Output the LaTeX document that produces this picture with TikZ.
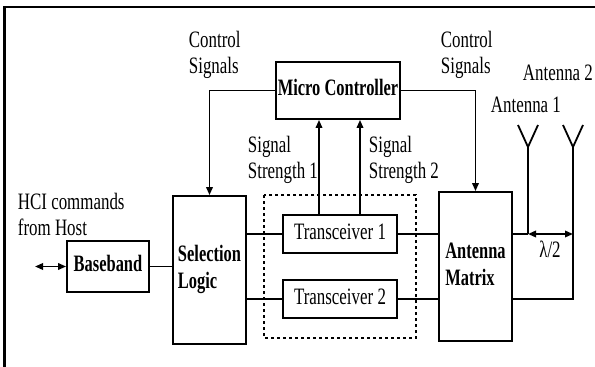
\documentclass[tikz,border=0pt]{standalone}
\usepackage{fontspec}
\setmainfont{Liberation Serif}
\usetikzlibrary{arrows.meta}
\newcommand\nrw[1]{\scalebox{0.72}[1]{\fontsize{23.5}{26}\selectfont\begin{tabular}{@{}l@{}}#1\end{tabular}}}
\newcommand\nrwb[1]{\scalebox{0.7}[1]{\fontsize{23.5}{27}\selectfont\bfseries\begin{tabular}{@{}l@{}}#1\end{tabular}}}
\begin{document}
\begin{tikzpicture}[x=1pt,y=-1pt,line width=1.8pt,
  box/.style={draw,line width=1.8pt,inner sep=0pt},
  lab/.style={inner sep=0pt},
  tip/.style={-{Triangle[length=8pt,width=6.5pt]}},
  dtip/.style={{Triangle[length=8pt,width=6.5pt]}-{Triangle[length=8pt,width=6.5pt]}}]
\useasboundingbox (0,0) rectangle (595,367);
% frame (cropped)
\draw[line width=2.8pt] (4.5,367) -- (4.5,7) -- (595,7);
% boxes
\node[box,minimum width=124pt,minimum height=57pt] (mc) at (338,90.5) {\nrwb{Micro Controller}};
\node[box,minimum width=73pt,minimum height=148pt] (sel) at (209.5,270) {\nrwb{Selection\\Logic}};
\node[box,minimum width=82pt,minimum height=51pt] (bb) at (108,266.5) {\nrwb{Baseband}};
\node[box,minimum width=114pt,minimum height=38pt] (t1) at (340,234) {\nrw{Transceiver 1}};
\node[box,minimum width=114pt,minimum height=38pt] (t2) at (340,299) {\nrw{Transceiver 2}};
\node[box,minimum width=73pt,minimum height=149pt] (am) at (475.5,266.5) {\nrwb{Antenna\\Matrix}};
\draw[line width=1.6pt,dash pattern=on 3pt off 3pt] (264,195) rectangle (416,338);
% control signals
\draw[tip] (mc.west) -| (sel.north);
\draw[tip] (mc.east) -| (am.north);
% signal strength
\coordinate (s1) at (319,0);
\coordinate (s2) at (360,0);
\draw[tip] (s1 |- t1.north) -- (s1 |- mc.south);
\draw[tip] (s2 |- t1.north) -- (s2 |- mc.south);
% data paths
\draw (bb.east) -- (bb.east -| sel.west);
\draw (t1.west) -- (t1.west -| sel.east);
\draw (t2.west) -- (t2.west -| sel.east);
\draw (t1.east) -- (t1.east -| am.west);
\draw (t2.east) -- (t2.east -| am.west);
\coordinate (hci) at (35,266.5);
\draw[dtip] (hci) -- (bb.west);
% antennas
\coordinate (a1) at (528,147);
\coordinate (a2) at (573,147);
\coordinate (j1) at (528,234);
\coordinate (j2) at (573,299);
\draw (518,125) -- (a1) -- (538,125);
\draw (563,125) -- (a2) -- (583,125);
\draw (a1) -- (j1);
\draw[line width=2.8pt] (j1) -- (j1 -| am.east);
\draw (a2) -- (j2) -- (j2 -| am.east);
\draw[dtip] (j1) -- (j1 -| a2);
% labels
\node[lab,anchor=west] (cs1) at (188,55) {\nrw{Control\\Signals}};
\node[lab,anchor=west] (cs2) at (440,55) {\nrw{Control\\Signals}};
\node[lab,anchor=west] (an2) at (522,75) {\nrw{Antenna 2}};
\node[lab,anchor=west] (an1) at (490,107) {\nrw{Antenna 1}};
\node[lab,anchor=west] (ss1) at (247,160) {\nrw{Signal\\Strength 1}};
\node[lab,anchor=west] (ss2) at (368,160) {\nrw{Signal\\Strength 2}};
\node[lab,anchor=west] (hcit) at (17,217) {\nrw{HCI commands\\from Host}};
\node[lab] (lam) at (550,252) {\nrw{λ/2}};
\end{tikzpicture}
\end{document}
